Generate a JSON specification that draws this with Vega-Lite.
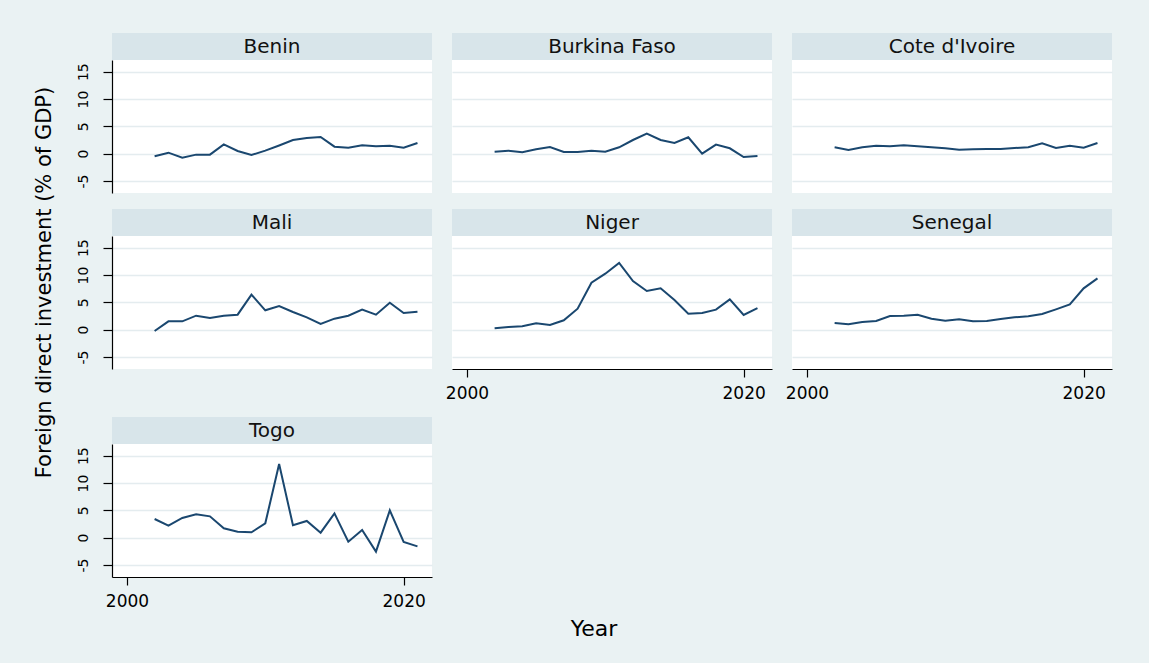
{
  "$schema": "https://vega.github.io/schema/vega-lite/v6.json",
  "background": "#EAF2F3",
  "autosize": {"type": "pad"},
  "padding": {"left": 33, "top": 33, "right": 37, "bottom": 24},
  "data": {
    "values": [
      {"country": "Benin", "year": 2002, "fdi": -0.49}, {"country": "Benin", "year": 2003, "fdi": 0.18}, {"country": "Benin", "year": 2004, "fdi": -0.73}, {"country": "Benin", "year": 2005, "fdi": -0.18}, {"country": "Benin", "year": 2006, "fdi": -0.18},
      {"country": "Benin", "year": 2007, "fdi": 1.7}, {"country": "Benin", "year": 2008, "fdi": 0.49}, {"country": "Benin", "year": 2009, "fdi": -0.24}, {"country": "Benin", "year": 2010, "fdi": 0.55}, {"country": "Benin", "year": 2011, "fdi": 1.5},
      {"country": "Benin", "year": 2012, "fdi": 2.5}, {"country": "Benin", "year": 2013, "fdi": 2.87}, {"country": "Benin", "year": 2014, "fdi": 3.05}, {"country": "Benin", "year": 2015, "fdi": 1.28}, {"country": "Benin", "year": 2016, "fdi": 1.1},
      {"country": "Benin", "year": 2017, "fdi": 1.52}, {"country": "Benin", "year": 2018, "fdi": 1.34}, {"country": "Benin", "year": 2019, "fdi": 1.46}, {"country": "Benin", "year": 2020, "fdi": 1.1}, {"country": "Benin", "year": 2021, "fdi": 1.95},
      {"country": "Burkina Faso", "year": 2002, "fdi": 0.37}, {"country": "Burkina Faso", "year": 2003, "fdi": 0.55}, {"country": "Burkina Faso", "year": 2004, "fdi": 0.24}, {"country": "Burkina Faso", "year": 2005, "fdi": 0.79}, {"country": "Burkina Faso", "year": 2006, "fdi": 1.22},
      {"country": "Burkina Faso", "year": 2007, "fdi": 0.3}, {"country": "Burkina Faso", "year": 2008, "fdi": 0.3}, {"country": "Burkina Faso", "year": 2009, "fdi": 0.55}, {"country": "Burkina Faso", "year": 2010, "fdi": 0.37}, {"country": "Burkina Faso", "year": 2011, "fdi": 1.16},
      {"country": "Burkina Faso", "year": 2012, "fdi": 2.5}, {"country": "Burkina Faso", "year": 2013, "fdi": 3.66}, {"country": "Burkina Faso", "year": 2014, "fdi": 2.5}, {"country": "Burkina Faso", "year": 2015, "fdi": 1.95}, {"country": "Burkina Faso", "year": 2016, "fdi": 2.99},
      {"country": "Burkina Faso", "year": 2017, "fdi": 0.0}, {"country": "Burkina Faso", "year": 2018, "fdi": 1.65}, {"country": "Burkina Faso", "year": 2019, "fdi": 0.98}, {"country": "Burkina Faso", "year": 2020, "fdi": -0.61}, {"country": "Burkina Faso", "year": 2021, "fdi": -0.43},
      {"country": "Cote d'Ivoire", "year": 2002, "fdi": 1.16}, {"country": "Cote d'Ivoire", "year": 2003, "fdi": 0.67}, {"country": "Cote d'Ivoire", "year": 2004, "fdi": 1.16}, {"country": "Cote d'Ivoire", "year": 2005, "fdi": 1.46}, {"country": "Cote d'Ivoire", "year": 2006, "fdi": 1.34},
      {"country": "Cote d'Ivoire", "year": 2007, "fdi": 1.52}, {"country": "Cote d'Ivoire", "year": 2008, "fdi": 1.34}, {"country": "Cote d'Ivoire", "year": 2009, "fdi": 1.16}, {"country": "Cote d'Ivoire", "year": 2010, "fdi": 0.98}, {"country": "Cote d'Ivoire", "year": 2011, "fdi": 0.73},
      {"country": "Cote d'Ivoire", "year": 2012, "fdi": 0.79}, {"country": "Cote d'Ivoire", "year": 2013, "fdi": 0.85}, {"country": "Cote d'Ivoire", "year": 2014, "fdi": 0.85}, {"country": "Cote d'Ivoire", "year": 2015, "fdi": 1.04}, {"country": "Cote d'Ivoire", "year": 2016, "fdi": 1.16},
      {"country": "Cote d'Ivoire", "year": 2017, "fdi": 1.89}, {"country": "Cote d'Ivoire", "year": 2018, "fdi": 1.04}, {"country": "Cote d'Ivoire", "year": 2019, "fdi": 1.46}, {"country": "Cote d'Ivoire", "year": 2020, "fdi": 1.1}, {"country": "Cote d'Ivoire", "year": 2021, "fdi": 1.95},
      {"country": "Mali", "year": 2002, "fdi": -0.24}, {"country": "Mali", "year": 2003, "fdi": 1.52}, {"country": "Mali", "year": 2004, "fdi": 1.52}, {"country": "Mali", "year": 2005, "fdi": 2.56}, {"country": "Mali", "year": 2006, "fdi": 2.13},
      {"country": "Mali", "year": 2007, "fdi": 2.56}, {"country": "Mali", "year": 2008, "fdi": 2.74}, {"country": "Mali", "year": 2009, "fdi": 6.4}, {"country": "Mali", "year": 2010, "fdi": 3.54}, {"country": "Mali", "year": 2011, "fdi": 4.33},
      {"country": "Mali", "year": 2012, "fdi": 3.23}, {"country": "Mali", "year": 2013, "fdi": 2.26}, {"country": "Mali", "year": 2014, "fdi": 1.04}, {"country": "Mali", "year": 2015, "fdi": 2.01}, {"country": "Mali", "year": 2016, "fdi": 2.56},
      {"country": "Mali", "year": 2017, "fdi": 3.66}, {"country": "Mali", "year": 2018, "fdi": 2.74}, {"country": "Mali", "year": 2019, "fdi": 4.94}, {"country": "Mali", "year": 2020, "fdi": 3.05}, {"country": "Mali", "year": 2021, "fdi": 3.29},
      {"country": "Niger", "year": 2002, "fdi": 0.24}, {"country": "Niger", "year": 2003, "fdi": 0.49}, {"country": "Niger", "year": 2004, "fdi": 0.61}, {"country": "Niger", "year": 2005, "fdi": 1.16}, {"country": "Niger", "year": 2006, "fdi": 0.85},
      {"country": "Niger", "year": 2007, "fdi": 1.71}, {"country": "Niger", "year": 2008, "fdi": 3.84}, {"country": "Niger", "year": 2009, "fdi": 8.6}, {"country": "Niger", "year": 2010, "fdi": 10.24}, {"country": "Niger", "year": 2011, "fdi": 12.2},
      {"country": "Niger", "year": 2012, "fdi": 8.9}, {"country": "Niger", "year": 2013, "fdi": 7.07}, {"country": "Niger", "year": 2014, "fdi": 7.56}, {"country": "Niger", "year": 2015, "fdi": 5.43}, {"country": "Niger", "year": 2016, "fdi": 2.93},
      {"country": "Niger", "year": 2017, "fdi": 3.05}, {"country": "Niger", "year": 2018, "fdi": 3.66}, {"country": "Niger", "year": 2019, "fdi": 5.55}, {"country": "Niger", "year": 2020, "fdi": 2.68}, {"country": "Niger", "year": 2021, "fdi": 3.96},
      {"country": "Senegal", "year": 2002, "fdi": 1.22}, {"country": "Senegal", "year": 2003, "fdi": 0.98}, {"country": "Senegal", "year": 2004, "fdi": 1.4}, {"country": "Senegal", "year": 2005, "fdi": 1.59}, {"country": "Senegal", "year": 2006, "fdi": 2.5},
      {"country": "Senegal", "year": 2007, "fdi": 2.56}, {"country": "Senegal", "year": 2008, "fdi": 2.74}, {"country": "Senegal", "year": 2009, "fdi": 2.01}, {"country": "Senegal", "year": 2010, "fdi": 1.65}, {"country": "Senegal", "year": 2011, "fdi": 1.89},
      {"country": "Senegal", "year": 2012, "fdi": 1.52}, {"country": "Senegal", "year": 2013, "fdi": 1.59}, {"country": "Senegal", "year": 2014, "fdi": 1.95}, {"country": "Senegal", "year": 2015, "fdi": 2.26}, {"country": "Senegal", "year": 2016, "fdi": 2.44},
      {"country": "Senegal", "year": 2017, "fdi": 2.87}, {"country": "Senegal", "year": 2018, "fdi": 3.72}, {"country": "Senegal", "year": 2019, "fdi": 4.63}, {"country": "Senegal", "year": 2020, "fdi": 7.56}, {"country": "Senegal", "year": 2021, "fdi": 9.39},
      {"country": "Togo", "year": 2002, "fdi": 3.41}, {"country": "Togo", "year": 2003, "fdi": 2.2}, {"country": "Togo", "year": 2004, "fdi": 3.6}, {"country": "Togo", "year": 2005, "fdi": 4.27}, {"country": "Togo", "year": 2006, "fdi": 3.9},
      {"country": "Togo", "year": 2007, "fdi": 1.71}, {"country": "Togo", "year": 2008, "fdi": 1.1}, {"country": "Togo", "year": 2009, "fdi": 0.98}, {"country": "Togo", "year": 2010, "fdi": 2.62}, {"country": "Togo", "year": 2011, "fdi": 13.48},
      {"country": "Togo", "year": 2012, "fdi": 2.26}, {"country": "Togo", "year": 2013, "fdi": 3.05}, {"country": "Togo", "year": 2014, "fdi": 0.91}, {"country": "Togo", "year": 2015, "fdi": 4.45}, {"country": "Togo", "year": 2016, "fdi": -0.73},
      {"country": "Togo", "year": 2017, "fdi": 1.4}, {"country": "Togo", "year": 2018, "fdi": -2.56}, {"country": "Togo", "year": 2019, "fdi": 5.0}, {"country": "Togo", "year": 2020, "fdi": -0.79}, {"country": "Togo", "year": 2021, "fdi": -1.59}
    ]
  },
  "title": {"text": "Foreign direct investment (% of GDP)", "orient": "left", "anchor": "middle", "fontSize": 21, "offset": 21, "dx": 54},
  "vconcat": [
    {
      "title": {"text": "Year", "orient": "bottom", "anchor": "middle", "fontSize": 22, "offset": 10},
      "spacing": 16,
      "bounds": "full",
      "vconcat": [
        {
          "spacing": 20,
          "bounds": "full",
          "hconcat": [
            {"spacing": 0, "bounds": "flush", "vconcat": [
              {"width": 320, "height": 27, "view": {"fill": "#D8E5EA", "stroke": null},
               "transform": [{"filter": {"field": "country", "equal": "Benin"}}, {"aggregate": [{"op": "count", "as": "n"}], "groupby": ["country"]}],
               "mark": {"type": "text", "font": "DejaVu Sans", "fontSize": 20, "color": "#111111"},
               "encoding": {"text": {"field": "country", "type": "nominal"}}},
              {"width": 320, "height": 133, "view": {"fill": "#ffffff", "stroke": null},
               "transform": [{"filter": {"field": "country", "equal": "Benin"}}],
               "mark": {"type": "line", "color": "#1A476F", "strokeWidth": 2},
               "encoding": {
                 "x": {"field": "year", "type": "quantitative", "scale": {"domain": [1998.92, 2022.05], "nice": false, "zero": false}, "axis": null},
                 "y": {"field": "fdi", "type": "quantitative", "scale": {"domain": [-7.2, 17.14], "nice": false, "zero": false},
                       "axis": {"title": null, "values": [-5, 0, 5, 10, 15], "grid": true, "tickSize": 9, "labelAngle": -90, "labelAlign": "center", "labelBaseline": "alphabetic", "labelPadding": 16, "labelFontSize": 14, "labelExpr": "datum.value < 0 ? '-' + abs(datum.value) : '' + datum.value"}}
               }}
            ]},
            {"spacing": 0, "bounds": "flush", "vconcat": [
              {"width": 320, "height": 27, "view": {"fill": "#D8E5EA", "stroke": null},
               "transform": [{"filter": {"field": "country", "equal": "Burkina Faso"}}, {"aggregate": [{"op": "count", "as": "n"}], "groupby": ["country"]}],
               "mark": {"type": "text", "font": "DejaVu Sans", "fontSize": 20, "color": "#111111"},
               "encoding": {"text": {"field": "country", "type": "nominal"}}},
              {"width": 320, "height": 133, "view": {"fill": "#ffffff", "stroke": null},
               "transform": [{"filter": {"field": "country", "equal": "Burkina Faso"}}],
               "mark": {"type": "line", "color": "#1A476F", "strokeWidth": 2},
               "encoding": {
                 "x": {"field": "year", "type": "quantitative", "scale": {"domain": [1998.92, 2022.05], "nice": false, "zero": false}, "axis": null},
                 "y": {"field": "fdi", "type": "quantitative", "scale": {"domain": [-7.2, 17.14], "nice": false, "zero": false},
                       "axis": {"title": null, "values": [-5, 0, 5, 10, 15], "grid": true, "labels": false, "ticks": false, "domain": false}}
               }}
            ]},
            {"spacing": 0, "bounds": "flush", "vconcat": [
              {"width": 320, "height": 27, "view": {"fill": "#D8E5EA", "stroke": null},
               "transform": [{"filter": {"field": "country", "equal": "Cote d'Ivoire"}}, {"aggregate": [{"op": "count", "as": "n"}], "groupby": ["country"]}],
               "mark": {"type": "text", "font": "DejaVu Sans", "fontSize": 20, "color": "#111111"},
               "encoding": {"text": {"field": "country", "type": "nominal"}}},
              {"width": 320, "height": 133, "view": {"fill": "#ffffff", "stroke": null},
               "transform": [{"filter": {"field": "country", "equal": "Cote d'Ivoire"}}],
               "mark": {"type": "line", "color": "#1A476F", "strokeWidth": 2},
               "encoding": {
                 "x": {"field": "year", "type": "quantitative", "scale": {"domain": [1998.92, 2022.05], "nice": false, "zero": false}, "axis": null},
                 "y": {"field": "fdi", "type": "quantitative", "scale": {"domain": [-7.2, 17.14], "nice": false, "zero": false},
                       "axis": {"title": null, "values": [-5, 0, 5, 10, 15], "grid": true, "labels": false, "ticks": false, "domain": false}}
               }}
            ]}
          ]
        },
        {
          "spacing": 13,
          "bounds": "full",
          "hconcat": [
            {"spacing": 0, "bounds": "flush", "vconcat": [
              {"width": 320, "height": 27, "view": {"fill": "#D8E5EA", "stroke": null},
               "transform": [{"filter": {"field": "country", "equal": "Mali"}}, {"aggregate": [{"op": "count", "as": "n"}], "groupby": ["country"]}],
               "mark": {"type": "text", "font": "DejaVu Sans", "fontSize": 20, "color": "#111111"},
               "encoding": {"text": {"field": "country", "type": "nominal"}}},
              {"width": 320, "height": 133, "view": {"fill": "#ffffff", "stroke": null},
               "transform": [{"filter": {"field": "country", "equal": "Mali"}}],
               "mark": {"type": "line", "color": "#1A476F", "strokeWidth": 2},
               "encoding": {
                 "x": {"field": "year", "type": "quantitative", "scale": {"domain": [1998.92, 2022.05], "nice": false, "zero": false}, "axis": null},
                 "y": {"field": "fdi", "type": "quantitative", "scale": {"domain": [-7.2, 17.14], "nice": false, "zero": false},
                       "axis": {"title": null, "values": [-5, 0, 5, 10, 15], "grid": true, "tickSize": 9, "labelAngle": -90, "labelAlign": "center", "labelBaseline": "alphabetic", "labelPadding": 16, "labelFontSize": 14, "labelExpr": "datum.value < 0 ? '-' + abs(datum.value) : '' + datum.value"}}
               }}
            ]},
            {"spacing": 0, "bounds": "flush", "vconcat": [
              {"width": 320, "height": 27, "view": {"fill": "#D8E5EA", "stroke": null},
               "transform": [{"filter": {"field": "country", "equal": "Niger"}}, {"aggregate": [{"op": "count", "as": "n"}], "groupby": ["country"]}],
               "mark": {"type": "text", "font": "DejaVu Sans", "fontSize": 20, "color": "#111111"},
               "encoding": {"text": {"field": "country", "type": "nominal"}}},
              {"width": 320, "height": 133, "view": {"fill": "#ffffff", "stroke": null},
               "transform": [{"filter": {"field": "country", "equal": "Niger"}}],
               "mark": {"type": "line", "color": "#1A476F", "strokeWidth": 2},
               "encoding": {
                 "x": {"field": "year", "type": "quantitative", "scale": {"domain": [1998.92, 2022.05], "nice": false, "zero": false},
                       "axis": {"title": null, "values": [2000, 2020], "format": "d", "grid": false, "tickSize": 8, "labelPadding": 8, "labelFontSize": 17}},
                 "y": {"field": "fdi", "type": "quantitative", "scale": {"domain": [-7.2, 17.14], "nice": false, "zero": false},
                       "axis": {"title": null, "values": [-5, 0, 5, 10, 15], "grid": true, "labels": false, "ticks": false, "domain": false}}
               }}
            ]},
            {"spacing": 0, "bounds": "flush", "vconcat": [
              {"width": 320, "height": 27, "view": {"fill": "#D8E5EA", "stroke": null},
               "transform": [{"filter": {"field": "country", "equal": "Senegal"}}, {"aggregate": [{"op": "count", "as": "n"}], "groupby": ["country"]}],
               "mark": {"type": "text", "font": "DejaVu Sans", "fontSize": 20, "color": "#111111"},
               "encoding": {"text": {"field": "country", "type": "nominal"}}},
              {"width": 320, "height": 133, "view": {"fill": "#ffffff", "stroke": null},
               "transform": [{"filter": {"field": "country", "equal": "Senegal"}}],
               "mark": {"type": "line", "color": "#1A476F", "strokeWidth": 2},
               "encoding": {
                 "x": {"field": "year", "type": "quantitative", "scale": {"domain": [1998.92, 2022.05], "nice": false, "zero": false},
                       "axis": {"title": null, "values": [2000, 2020], "format": "d", "grid": false, "tickSize": 8, "labelPadding": 8, "labelFontSize": 17}},
                 "y": {"field": "fdi", "type": "quantitative", "scale": {"domain": [-7.2, 17.14], "nice": false, "zero": false},
                       "axis": {"title": null, "values": [-5, 0, 5, 10, 15], "grid": true, "labels": false, "ticks": false, "domain": false}}
               }}
            ]}
          ]
        },
        {
          "spacing": 20,
          "bounds": "full",
          "hconcat": [
            {"spacing": 0, "bounds": "flush", "vconcat": [
              {"width": 320, "height": 27, "view": {"fill": "#D8E5EA", "stroke": null},
               "transform": [{"filter": {"field": "country", "equal": "Togo"}}, {"aggregate": [{"op": "count", "as": "n"}], "groupby": ["country"]}],
               "mark": {"type": "text", "font": "DejaVu Sans", "fontSize": 20, "color": "#111111"},
               "encoding": {"text": {"field": "country", "type": "nominal"}}},
              {"width": 320, "height": 133, "view": {"fill": "#ffffff", "stroke": null},
               "transform": [{"filter": {"field": "country", "equal": "Togo"}}],
               "mark": {"type": "line", "color": "#1A476F", "strokeWidth": 2},
               "encoding": {
                 "x": {"field": "year", "type": "quantitative", "scale": {"domain": [1998.92, 2022.05], "nice": false, "zero": false},
                       "axis": {"title": null, "values": [2000, 2020], "format": "d", "grid": false, "tickSize": 8, "labelPadding": 8, "labelFontSize": 17}},
                 "y": {"field": "fdi", "type": "quantitative", "scale": {"domain": [-7.2, 17.14], "nice": false, "zero": false},
                       "axis": {"title": null, "values": [-5, 0, 5, 10, 15], "grid": true, "tickSize": 9, "labelAngle": -90, "labelAlign": "center", "labelBaseline": "alphabetic", "labelPadding": 16, "labelFontSize": 14, "labelExpr": "datum.value < 0 ? '-' + abs(datum.value) : '' + datum.value"}}
               }}
            ]}
          ]
        }
      ]
    }
  ],
  "config": {
    "view": {"stroke": null},
    "axis": {
      "labelFont": "DejaVu Sans",
      "labelColor": "#000000",
      "domainColor": "#000000",
      "domainWidth": 1.2,
      "tickColor": "#000000",
      "tickWidth": 1.2,
      "gridColor": "#E4ECEF",
      "gridWidth": 1.5,
      "labelFlush": false
    },
    "title": {"font": "DejaVu Sans", "fontWeight": "normal", "color": "#000000"}
  }
}
